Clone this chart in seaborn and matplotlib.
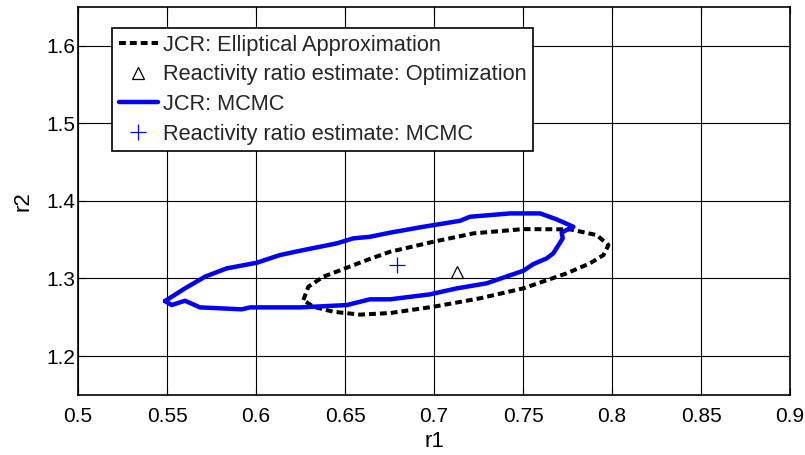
import matplotlib
matplotlib.use("Agg")
import matplotlib.pyplot as plt
import seaborn as sns
import pandas as pd
from matplotlib.lines import Line2D

# Joint confidence region from the elliptical approximation (closed outline)
ellipse_r1 = [0.6266, 0.6294, 0.6378, 0.6500, 0.6622, 0.6753, 0.6996, 0.7221,
              0.7502, 0.7764, 0.7914, 0.7980, 0.7952, 0.7876, 0.7745, 0.7502,
              0.7258, 0.6996, 0.6753, 0.6584, 0.6434, 0.6322, 0.6266]
ellipse_r2 = [1.2723, 1.2894, 1.3023, 1.3130, 1.3237, 1.3344, 1.3473, 1.3581,
              1.3636, 1.3633, 1.3559, 1.3430, 1.3302, 1.3195, 1.3066, 1.2873,
              1.2745, 1.2636, 1.2555, 1.2535, 1.2572, 1.2636, 1.2723]

# Joint confidence region from MCMC samples (closed outline)
mcmc_r1 = [0.5489, 0.5601, 0.5713, 0.5835, 0.6004, 0.6135, 0.6247, 0.6453,
           0.6547, 0.6640, 0.6753, 0.6940, 0.7146, 0.7202, 0.7427, 0.7596,
           0.7689, 0.7783, 0.7717, 0.7723, 0.7670, 0.7633, 0.7558, 0.7502,
           0.7296, 0.7128, 0.6978, 0.6753, 0.6640, 0.6510, 0.6397, 0.6247,
           0.5966, 0.5920, 0.5685, 0.5601, 0.5526, 0.5489]
mcmc_r2 = [1.2710, 1.2873, 1.3023, 1.3130, 1.3203, 1.3302, 1.3357, 1.3452,
           1.3517, 1.3537, 1.3590, 1.3666, 1.3743, 1.3795, 1.3838, 1.3838,
           1.3761, 1.3666, 1.3594, 1.3517, 1.3324, 1.3259, 1.3186, 1.3100,
           1.2938, 1.2873, 1.2796, 1.2732, 1.2732, 1.2658, 1.2645, 1.2628,
           1.2628, 1.2603, 1.2628, 1.2714, 1.2658, 1.2710]

# Point estimates
opt_r1, opt_r2 = [0.713], [1.309]
mcmc_est_r1, mcmc_est_r2 = [0.679], [1.318]

legend_labels = ["JCR: Elliptical Approximation",
                 "Reactivity ratio estimate: Optimization",
                 "JCR: MCMC",
                 "Reactivity ratio estimate: MCMC"]
x_ticks = [0.5, 0.55, 0.6, 0.65, 0.7, 0.75, 0.8, 0.85, 0.9]
x_tick_labels = ["0.5", "0.55", "0.6", "0.65", "0.7", "0.75", "0.8", "0.85", "0.9"]
y_ticks = [1.2, 1.3, 1.4, 1.5, 1.6]
y_tick_labels = ["1.2", "1.3", "1.4", "1.5", "1.6"]

sns.set_theme(style="white")
plt.rcParams["font.family"] = ["Liberation Sans", "DejaVu Sans"]

fig = plt.figure(figsize=(8.05, 4.55), dpi=100)
ax = fig.add_axes([0.0969, 0.1319, 0.8845, 0.8534])

ell = pd.DataFrame({"r1": ellipse_r1, "r2": ellipse_r2})
mc = pd.DataFrame({"r1": mcmc_r1, "r2": mcmc_r2})

dash = (0, (1.7, 1.0))
sns.lineplot(data=ell, x="r1", y="r2", sort=False, estimator=None, ax=ax,
             color="black", lw=2.9, linestyle=dash, zorder=3)
sns.lineplot(data=mc, x="r1", y="r2", sort=False, estimator=None, ax=ax,
             color="#0000ff", lw=3.2, zorder=4)
ax.plot(opt_r1, opt_r2, linestyle="none", marker="^", markersize=9,
        markerfacecolor="none", markeredgecolor="black", markeredgewidth=0.9,
        zorder=5)
ax.plot(mcmc_est_r1, mcmc_est_r2, linestyle="none", marker="+", markersize=11,
        color="#0000ff", markeredgewidth=0.9, zorder=5)

ax.set_xlim(0.5, 0.9)
ax.set_ylim(1.15, 1.65)
ax.set_xticks(x_ticks)
ax.set_xticklabels(x_tick_labels)
ax.set_yticks(y_ticks)
ax.set_yticklabels(y_tick_labels)
ax.grid(True, color="black", lw=0.8)
ax.set_axisbelow(True)
ax.tick_params(axis="both", direction="in", length=5, width=0.8, color="black",
               labelsize=15, labelcolor="black", top=True, right=True,
               bottom=True, left=True)
ax.tick_params(axis="x", pad=9)
ax.tick_params(axis="y", pad=2)
for sp in ax.spines.values():
    sp.set_visible(True)
    sp.set_color("black")
    sp.set_linewidth(1.2)

ax.set_xlabel("r1", fontsize=16, color="black", labelpad=3)
ax.set_ylabel("r2", fontsize=16, color="black", labelpad=9)

handles = [
    Line2D([], [], color="black", lw=2.9, linestyle=dash),
    Line2D([], [], linestyle="none", marker="^", markersize=9,
           markerfacecolor="none", markeredgecolor="black", markeredgewidth=0.9),
    Line2D([], [], color="#0000ff", lw=3.2),
    Line2D([], [], linestyle="none", marker="+", markersize=11,
           color="#0000ff", markeredgewidth=0.9),
]
leg = ax.legend(handles, legend_labels, loc="upper left",
                bbox_to_anchor=(0.0478, 0.945), borderaxespad=0,
                fontsize=15.7, frameon=True, fancybox=False, framealpha=1,
                edgecolor="black", facecolor="white", handlelength=1.8,
                handletextpad=0.25, labelspacing=0.4, borderpad=0.3)
leg.get_frame().set_linewidth(1.2)
leg.set_zorder(6)

fig.savefig("out.png", dpi=100)
